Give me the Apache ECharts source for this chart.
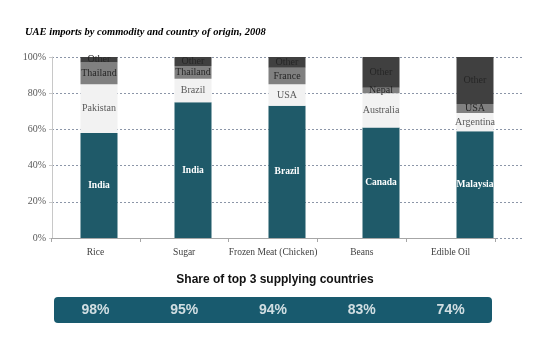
<!DOCTYPE html>
<html><head><meta charset="utf-8">
<script src="https://cdn.jsdelivr.net/npm/echarts@6/dist/echarts.min.js"></script>
<style>html,body{margin:0;padding:0;background:#fff}#c{width:550px;height:356px}</style>
</head><body><div id="c"></div>
<script>
const categories = ['Rice', 'Sugar', 'Frozen Meat (Chicken)', 'Beans', 'Edible Oil'];
const yTicks = ['0%', '20%', '40%', '60%', '80%', '100%'];
// segment 1 (largest supplier)
const top1Names = ['India', 'India', 'Brazil', 'Canada', 'Malaysia'];
const top1Values = [58, 75, 73, 61, 59];
// segment 2
const top2Names = ['Pakistan', 'Brazil', 'USA', 'Australia', 'Argentina'];
const top2Values = [27, 13, 12, 19, 10];
// segment 3
const top3Names = ['Thailand', 'Thailand', 'France', 'Nepal', 'USA'];
const top3Values = [12, 7, 9, 3, 5];
// other
const otherNames = ['Other', 'Other', 'Other', 'Other', 'Other'];
const otherValues = [3, 5, 6, 17, 26];
// share of top 3
const shareLabels = ['98%', '95%', '94%', '83%', '74%'];

const serif = '"Liberation Serif", "DejaVu Serif", serif';
const chart = echarts.init(document.getElementById('c'), null, {renderer: 'canvas'});

function seg(names, values, color, textColor, bold) {
  return {
    type: 'bar', stack: 'a', xAxisIndex: 0, yAxisIndex: 0, barWidth: 37,
    itemStyle: {color: color},
    label: {
      show: true, position: 'inside', color: textColor, fontFamily: serif,
      fontSize: bold ? 9.5 : 10, fontWeight: bold ? 'bold' : 'normal',
      formatter: p => names[p.dataIndex]
    },
    data: values
  };
}

chart.setOption({
  animation: false,
  title: {
    text: 'UAE imports by commodity and country of origin, 2008',
    left: 20, top: 22,
    textStyle: {fontFamily: serif, fontSize: 10.5, fontWeight: 'bold', fontStyle: 'italic', color: '#000'}
  },
  graphic: [
    {type: 'text', left: 'center', top: 274, style: {text: 'Share of top 3 supplying countries', font: 'bold 12px "Liberation Sans", Arial, sans-serif', fill: '#111'}},
    {type: 'rect', shape: {x: 54, y: 297, width: 438, height: 26, r: 4}, style: {fill: '#185a6e'}, z: 0}
  ],
  grid: [
    {left: 52, right: 28, top: 57, height: 181},
    {left: 51, right: 55, top: 57, height: 181},
    {left: 51, right: 55, top: 297, height: 26}
  ],
  xAxis: [
    {type: 'category', gridIndex: 0, data: categories, show: false},
    {type: 'category', gridIndex: 1, data: categories,
      axisLine: {lineStyle: {color: '#a6a6a6'}},
      axisTick: {show: true, length: 4, lineStyle: {color: '#a6a6a6'}},
      axisLabel: {interval: 0, fontFamily: serif, fontSize: 9.5, color: '#404040', margin: 9}},
    {type: 'category', gridIndex: 2, data: categories, show: false}
  ],
  yAxis: [
    {type: 'value', gridIndex: 0, min: 0, max: 100, interval: 20,
      axisLine: {show: true, lineStyle: {color: '#c8c8c8'}},
      axisTick: {show: true, length: 3, lineStyle: {color: '#c8c8c8'}},
      splitLine: {lineStyle: {color: '#8c96a8', type: [2, 2]}},
      axisLabel: {fontFamily: serif, fontSize: 10, color: '#595959', margin: 6,
        formatter: v => yTicks[v / 20]}},
    {type: 'value', gridIndex: 1, min: 0, max: 100, show: false},
    {type: 'value', gridIndex: 2, min: 0, max: 1, show: false}
  ],
  series: [
    seg(top1Names, top1Values, '#1f5a69', '#ffffff', true),
    seg(top2Names, top2Values, '#f2f2f2', '#595959', false),
    seg(top3Names, top3Values, '#808080', '#262626', false),
    seg(otherNames, otherValues, '#404040', '#262626', false),
    {type: 'scatter', xAxisIndex: 2, yAxisIndex: 2, symbolSize: 0, z: 5,
      data: shareLabels.map(() => 0.5),
      label: {show: true, position: 'inside', color: '#fff', fontSize: 14, fontWeight: 'bold',
        fontFamily: '"Liberation Sans", Arial, sans-serif',
        formatter: p => shareLabels[p.dataIndex]}}
  ]
});
</script></body></html>
